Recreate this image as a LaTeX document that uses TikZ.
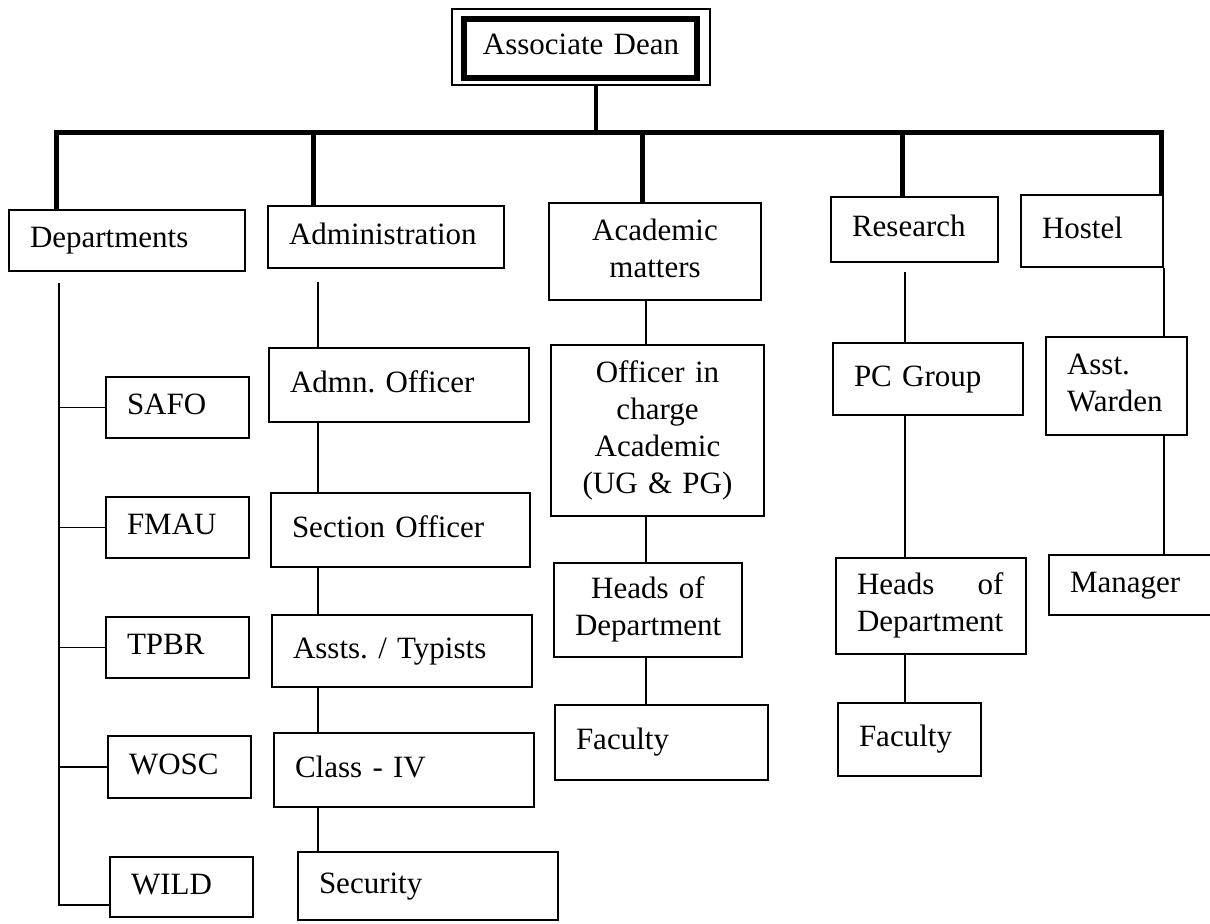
\documentclass[tikz,border=0pt]{standalone}
\usepackage{fontspec}
\setmainfont{Liberation Serif}
\usetikzlibrary{calc}
\newcommand\chartfont{\fontsize{15.5}{18.5}\selectfont\frenchspacing}
\newlength\deptw
% #1 name, #2 style, #3 x1, #4 y1, #5 x2, #6 y2, #7 text  (pixel units, y down)
\newcommand\orgbox[7]{%
  \pgfmathsetlengthmacro\obw{(#5-#3)*0.5pt}%
  \pgfmathsetlengthmacro\obh{(#6-#4)*0.5pt}%
  \pgfmathsetlengthmacro\otw{(#5-#3)*0.5pt-21pt}%
  \node[#2, minimum width=\obw, minimum height=\obh, text width=\otw] (#1) at ({(#3+#5)/2},{(#4+#6)/2}) {#7};}
\begin{document}
\settowidth{\deptw}{\chartfont Department}%
\begin{tikzpicture}[x=0.5pt,y=-0.5pt,
  box/.style={draw, line width=1.1pt, inner xsep=10.5pt, inner ysep=0pt, font=\chartfont, align=left,
    execute at begin node={\strut}, execute at end node={\strut}},
  cbox/.style={box, align=center},
  thinline/.style={line width=0.85pt},
  busline/.style={line width=2.5pt, line join=miter}]
\useasboundingbox (0,0) rectangle (1210,923);
\fill[white] (0,0) rectangle (1210,923);

% top
\orgbox{dean}{cbox, line width=1pt}{452}{9}{710}{85}{Associate Dean}
\draw[line width=3pt] ($(dean.north west)+(13,11)$) rectangle ($(dean.south east)+(-14,-8)$);

% first level
\orgbox{dept}{box}{9}{210}{245}{271}{Departments}
\orgbox{admin}{box}{268}{206}{504}{268}{Administration}
\orgbox{acad}{cbox}{549}{203}{761}{300}{Academic\\matters}
\orgbox{res}{box}{831}{197}{998}{262}{Research}
\orgbox{hostel}{box}{1021}{195}{1163}{267}{Hostel}

% departments
\orgbox{safo}{box}{106}{377}{249}{438}{SAFO}
\orgbox{fmau}{box}{106}{497}{249}{558}{FMAU}
\orgbox{tpbr}{box}{106}{617}{249}{678}{TPBR}
\orgbox{wosc}{box}{108}{736}{251}{798}{WOSC}
\orgbox{wild}{box}{110}{857}{253}{917}{WILD}

% administration
\orgbox{admo}{box}{269}{348}{529}{422}{Admn. Officer}
\orgbox{seco}{box}{271}{493}{530}{567}{Section Officer}
\orgbox{assts}{box}{272}{615}{532}{687}{Assts. / Typists}
\orgbox{class}{box}{274}{733}{534}{807}{Class - IV}
\orgbox{secu}{box}{298}{852}{558}{920}{Security}

% academic
\orgbox{offi}{cbox}{551}{345}{764}{516}{Officer in\\charge\\Academic\\(UG \& PG)}
\orgbox{hodA}{cbox}{554}{563}{742}{657}{Heads of\\Department}
\orgbox{facA}{box}{555}{705}{768}{780}{Faculty}

% research
\orgbox{pcg}{box}{833}{343}{1023}{415}{PC Group}
\orgbox{hodR}{box}{836}{558}{1026}{654}{\hbox to\deptw{Heads\hfill of}\\Department}
\orgbox{facR}{box}{838}{703}{981}{776}{Faculty}

% hostel
\orgbox{warden}{box}{1046}{337}{1187}{435}{Asst.\\Warden}
\orgbox{manager}{box}{1049}{555}{1214}{615}{Manager}

% bus
\coordinate (b1) at (56,132);
\coordinate (b2) at (313,132);
\coordinate (bD) at (596,132);
\coordinate (b3) at (642,132);
\coordinate (b4) at (902,132);
\coordinate (b5) at (1161,132);
\draw[line width=2.2pt] (bD |- dean.south) -- (bD);
\draw[busline] (b1 |- dept.north) -- (b1) -- (b5) -- (b5 |- hostel.north);
\draw[busline] (b2) -- (b2 |- admin.north);
\draw[busline] (b3) -- (b3 |- acad.north);
\draw[busline] (b4) -- (b4 |- res.north);

% departments trunk
\coordinate (dt) at (59,283);
\coordinate (db) at (59,905);
\draw[thinline] (dt) -- (db) -- (db -| wild.west);
\foreach \n in {safo,fmau,tpbr,wosc}
  \draw[thinline] (dt |- \n.west) -- (\n.west);

% administration chain
\coordinate (ax) at (318,282);
\draw[thinline] (ax) -- (ax |- admo.north);
\draw[thinline] (ax |- admo.south) -- (ax |- seco.north);
\draw[thinline] (ax |- seco.south) -- (ax |- assts.north);
\draw[thinline] (ax |- assts.south) -- (ax |- class.north);
\draw[thinline] (ax |- class.south) -- (ax |- secu.north);

% academic chain
\coordinate (cx) at (646,0);
\draw[thinline] (cx |- acad.south) -- (cx |- offi.north);
\draw[thinline] (cx |- offi.south) -- (cx |- hodA.north);
\draw[thinline] (cx |- hodA.south) -- (cx |- facA.north);

% research chain
\coordinate (rx) at (905,272);
\draw[thinline] (rx) -- (rx |- pcg.north);
\draw[thinline] (rx |- pcg.south) -- (rx |- hodR.north);
\draw[thinline] (rx |- hodR.south) -- (rx |- facR.north);

% hostel chain
\coordinate (hx) at (1164,0);
\draw[thinline] (hx |- hostel.south) -- (hx |- warden.north);
\draw[thinline] (hx |- warden.south) -- (hx |- manager.north);
\end{tikzpicture}
\end{document}
